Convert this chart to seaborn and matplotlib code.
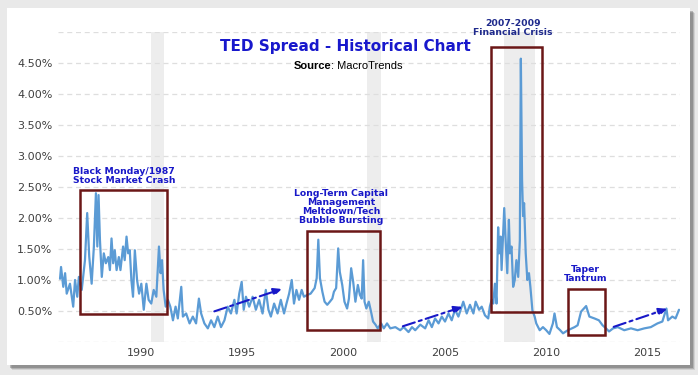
import pandas as pd
import numpy as np
import matplotlib
matplotlib.use("Agg")
import matplotlib.pyplot as plt
import matplotlib.patches as mpatches
import seaborn as sns

# TED spread (%), x = decimal year
yr_8691 = [1986.02, 1986.07, 1986.18, 1986.27, 1986.35, 1986.51, 1986.67, 1986.76, 1986.87, 1986.95,
           1987.09, 1987.25, 1987.36, 1987.46, 1987.58, 1987.69, 1987.79, 1987.86, 1987.92, 1987.99,
           1988.08, 1988.18, 1988.28, 1988.40, 1988.48, 1988.56, 1988.64, 1988.72, 1988.81, 1988.92,
           1989.00, 1989.13, 1989.21, 1989.30, 1989.38, 1989.46, 1989.54, 1989.62, 1989.71, 1989.82,
           1989.92, 1990.03, 1990.15, 1990.28, 1990.39, 1990.52, 1990.64, 1990.77, 1990.90, 1990.98,
           1991.05, 1991.13, 1991.23]
ted_8691 = [1.02, 1.21, 0.89, 1.11, 0.78, 0.94, 0.57, 1.00, 0.73, 1.05,
            0.84, 1.32, 2.08, 1.38, 0.94, 1.54, 2.40, 1.54, 2.37, 1.64,
            1.05, 1.43, 1.27, 1.37, 1.16, 1.67, 1.27, 1.48, 1.16, 1.37,
            1.16, 1.54, 1.32, 1.70, 1.43, 1.48, 1.00, 0.73, 1.48, 1.00,
            0.78, 0.94, 0.52, 0.94, 0.68, 0.62, 0.84, 0.73, 1.54, 1.11,
            1.32, 0.84, 0.57]

yr_9198 = [1991.34, 1991.46, 1991.59, 1991.72, 1991.83, 1992.00, 1992.08, 1992.24, 1992.41, 1992.57,
           1992.73, 1992.87, 1992.98, 1993.14, 1993.31, 1993.47, 1993.63, 1993.80, 1993.96, 1994.13,
           1994.29, 1994.45, 1994.62, 1994.73, 1994.86, 1994.98, 1995.08, 1995.19, 1995.35, 1995.52,
           1995.68, 1995.84, 1996.01, 1996.17, 1996.30, 1996.42, 1996.58, 1996.75, 1996.91, 1997.07,
           1997.19, 1997.32, 1997.45, 1997.56, 1997.68, 1997.81, 1997.94, 1998.05]
ted_9198 = [0.68, 0.57, 0.35, 0.57, 0.38, 0.89, 0.41, 0.46, 0.30, 0.41,
            0.30, 0.70, 0.46, 0.30, 0.22, 0.35, 0.24, 0.41, 0.24, 0.35,
            0.57, 0.46, 0.68, 0.46, 0.78, 0.97, 0.52, 0.73, 0.57, 0.73,
            0.52, 0.68, 0.46, 0.84, 0.52, 0.41, 0.62, 0.46, 0.68, 0.46,
            0.62, 0.78, 1.00, 0.62, 0.84, 0.68, 0.84, 0.73]

yr_9802 = [1998.22, 1998.38, 1998.58, 1998.68, 1998.76, 1998.84, 1998.96, 1999.07, 1999.20, 1999.33,
           1999.45, 1999.53, 1999.64, 1999.74, 1999.82, 1999.94, 2000.05, 2000.18, 2000.27, 2000.38,
           2000.48, 2000.59, 2000.71, 2000.81, 2000.90, 2000.97, 2001.04, 2001.13, 2001.25, 2001.36,
           2001.46, 2001.58, 2001.69, 2001.86, 2001.99]
ted_9802 = [0.76, 0.78, 0.87, 1.03, 1.65, 1.03, 0.81, 0.65, 0.60, 0.65,
            0.70, 0.81, 0.87, 1.51, 1.13, 0.92, 0.65, 0.54, 0.70, 1.19,
            0.97, 0.65, 0.92, 0.76, 0.70, 1.32, 0.65, 0.54, 0.65, 0.49,
            0.33, 0.28, 0.22, 0.30, 0.22]

yr_0207 = [2002.15, 2002.31, 2002.56, 2002.80, 2002.97, 2003.21, 2003.38, 2003.54, 2003.79, 2004.03,
           2004.20, 2004.36, 2004.52, 2004.69, 2004.85, 2005.01, 2005.18, 2005.34, 2005.50, 2005.67,
           2005.91, 2006.08, 2006.24, 2006.41, 2006.52, 2006.69, 2006.82, 2006.98, 2007.14]
ted_0207 = [0.30, 0.22, 0.24, 0.19, 0.24, 0.16, 0.24, 0.19, 0.28, 0.22,
            0.35, 0.24, 0.38, 0.30, 0.41, 0.33, 0.46, 0.35, 0.52, 0.41,
            0.65, 0.46, 0.60, 0.46, 0.65, 0.52, 0.57, 0.43, 0.38]

yr_0710 = [2007.22, 2007.31, 2007.39, 2007.47, 2007.55, 2007.63, 2007.68, 2007.75, 2007.80, 2007.85,
           2007.93, 2008.00, 2008.08, 2008.16, 2008.21, 2008.29, 2008.37, 2008.45, 2008.53, 2008.62,
           2008.70, 2008.75, 2008.81, 2008.86, 2008.91, 2008.99, 2009.07, 2009.15, 2009.22, 2009.32,
           2009.43, 2009.51, 2009.68, 2009.84, 2010.00, 2010.16, 2010.33, 2010.41, 2010.53, 2010.69]
ted_0710 = [0.57, 0.68, 0.62, 0.94, 0.62, 1.85, 1.43, 1.70, 1.16, 1.54,
            2.16, 1.64, 1.11, 1.97, 1.43, 1.54, 0.89, 1.00, 1.32, 1.05,
            1.64, 4.57, 2.61, 2.03, 2.24, 1.43, 1.00, 1.11, 0.89, 0.51,
            0.41, 0.30, 0.19, 0.24, 0.19, 0.13, 0.30, 0.46, 0.24, 0.19]

yr_1016 = [2010.83, 2011.07, 2011.40, 2011.55, 2011.72, 2011.97, 2012.13, 2012.38, 2012.60, 2012.78,
           2012.95, 2013.10, 2013.30, 2013.53, 2013.85, 2014.18, 2014.51, 2014.84, 2015.16, 2015.49,
           2015.73, 2015.93, 2016.01, 2016.22, 2016.38, 2016.55]
ted_1016 = [0.14, 0.19, 0.24, 0.27, 0.49, 0.58, 0.41, 0.38, 0.35, 0.27,
            0.22, 0.17, 0.22, 0.24, 0.19, 0.22, 0.19, 0.22, 0.24, 0.30,
            0.33, 0.54, 0.35, 0.41, 0.38, 0.52]

recessions = [(1990.52, 1991.17), (2001.17, 2001.83), (2007.92, 2009.45)]

# annotation boxes: (x0, x1, y0, y1) in year / percent
boxes = [(1987.0, 1991.3, 0.45, 2.45), (1998.2, 2001.8, 0.19, 1.79),
         (2007.3, 2009.8, 0.49, 4.76), (2011.1, 2012.9, 0.11, 0.85)]
box_labels = ["Black Monday/1987\nStock Market Crash",
              "Long-Term Capital\nManagement\nMeltdown/Tech\nBubble Bursting",
              "2007-2009\nFinancial Crisis", "Taper\nTantrum"]
label_pos = [(1986.66, 2.68, "left"), (1999.87, 2.18, "center"),
             (2008.37, 5.06, "center"), (2011.95, 1.10, "center")]

# trend arrows: (x_start, y_start, x_end, y_end)
trends = [(1993.5, 0.48, 1997.1, 0.87), (2002.8, 0.24, 2006.0, 0.58),
          (2013.2, 0.23, 2016.1, 0.55)]

yticks = [0.5, 1.0, 1.5, 2.0, 2.5, 3.0, 3.5, 4.0, 4.5]
xticks = [1990, 1995, 2000, 2005, 2010, 2015]

df = pd.DataFrame({
    "year": yr_8691 + yr_9198 + yr_9802 + yr_0207 + yr_0710 + yr_1016,
    "ted": ted_8691 + ted_9198 + ted_9802 + ted_0207 + ted_0710 + ted_1016,
})

sns.set_style("white")
plt.rcParams["font.family"] = ["DejaVu Sans"]

W, H = 698, 375
fig = plt.figure(figsize=(W / 100, H / 100), dpi=100)
fig.patch.set_facecolor("#e9e9e9")

# card with a soft shadow
for off, a in [(5, 0.15), (4, 0.25), (3, 0.35)]:
    fig.add_artist(mpatches.Rectangle(((7 + off) / W, (10 - off) / H), 683 / W, 357 / H,
                                      transform=fig.transFigure, facecolor="#555555",
                                      edgecolor="none", alpha=a, zorder=0))
fig.add_artist(mpatches.Rectangle((7 / W, 10 / H), 683 / W, 357 / H,
                                  transform=fig.transFigure, facecolor="white",
                                  edgecolor="none", zorder=0))

ax = fig.add_axes([58 / W, 33 / H, 622 / W, 310 / H])
ax.set_facecolor("none")

for x0, x1 in recessions:
    ax.axvspan(x0, x1, color="#ededed", lw=0, zorder=0)

for v in np.arange(0, 5.01, 0.5):
    ax.axhline(v, color="#dedede", lw=0.9, ls=(0, (4, 3)), zorder=0.5)

sns.lineplot(data=df, x="year", y="ted", ax=ax, color="#5b9bd5", lw=1.6, zorder=3)

for (x0, x1, y0, y1) in boxes:
    ax.add_patch(mpatches.Rectangle((x0, y0), x1 - x0, y1 - y0, fill=False,
                                    edgecolor="#6b1717", lw=1.8, zorder=4))

for txt, (tx, ty, ha) in zip(box_labels, label_pos):
    col = "#1f2a8c" if txt.startswith("2007") else "#1818c8"
    ax.text(tx, ty, txt, ha=ha, va="center", fontsize=6.7, fontweight="bold",
            color=col, linespacing=1.0, zorder=5)

for (xs, ys, xe, ye) in trends:
    ax.annotate("", xy=(xe, ye), xytext=(xs, ys),
                arrowprops=dict(arrowstyle="-|>,head_length=0.5,head_width=0.22",
                                color="#1818c8", lw=1.5, ls=(0, (6, 2, 1.5, 2))),
                zorder=5)

ax.set_xlim(1985.92, 2016.6)
ax.set_ylim(0, 5)
ax.set_xticks(xticks)
ax.set_xticklabels([str(t) for t in xticks])
ax.set_yticks(yticks)
ax.set_yticklabels([f"{t:.2f}%" for t in yticks])
ax.tick_params(axis="both", length=0, labelsize=8, labelcolor="#404040")
ax.tick_params(axis="y", pad=4)
ax.tick_params(axis="x", pad=4)
ax.set_xlabel("")
ax.set_ylabel("")
sns.despine(ax=ax, left=True, bottom=True)

fig.text(345 / W, 1 - 46 / H, "TED Spread - Historical Chart", ha="center", va="center",
         fontsize=11, fontweight="bold", color="#1818cc")
fig.text(331 / W, 1 - 66 / H, "Source", ha="right", va="center", fontsize=8,
         fontweight="bold", family="Liberation Sans", color="black")
fig.text(331 / W, 1 - 66 / H, ": MacroTrends", ha="left", va="center", fontsize=8,
         family="Liberation Sans", color="black")

fig.savefig("out.png", dpi=100)
